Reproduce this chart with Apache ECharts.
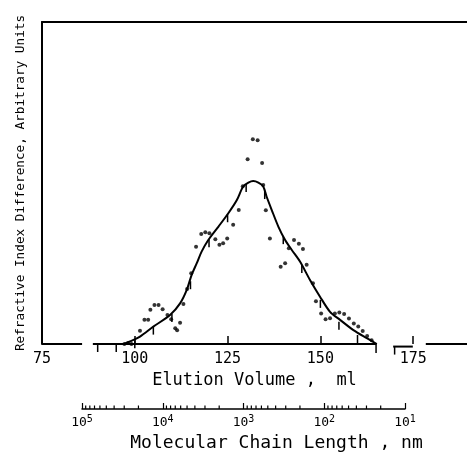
<!DOCTYPE html>
<html>
<head>
<meta charset="utf-8">
<script src="https://cdn.jsdelivr.net/npm/echarts@6/dist/echarts.min.js"></script>
<style>
  html, body { margin: 0; padding: 0; background: #fff; }
  #chart { width: 467px; height: 452px; }
</style>
</head>
<body>
<div id="chart"></div>
<script>
// fitted curve (elution volume ml, signal arbitrary units)
const curveVolume = [97.1, 99.5, 101.4, 105.0, 109.5, 112.2, 114.0, 115.3, 116.7, 118.0, 119.8, 122.5, 125.2, 127.5,
  129.2, 130.6, 131.9, 133.3, 134.6, 135.5, 136.9, 138.7, 140.5, 142.3, 144.5, 147.2, 149.9, 152.6, 155.3, 158.9,
  162.5, 165.2];
const curveSignal = [0, 1.2, 2.3, 5.4, 9.0, 12.6, 16.8, 21.4, 25.1, 28.7, 32.3, 36.4, 40.6, 44.7,
  48.9, 50.1, 50.6, 50.1, 48.9, 45.8, 41.6, 36.4, 32.3, 29.2, 25.6, 19.9, 14.7, 10.0, 7.5, 4.3,
  1.8, 0];

// measured points
const dotVolume = [96.3, 97.2, 98.2, 99.1, 101.4, 102.6, 103.6, 104.2, 105.3, 106.4, 107.5, 108.8, 109.8, 110.9,
  111.4, 112.2, 113.1, 114.1, 115.2, 116.5, 117.9, 119.0, 120.1, 121.7, 122.8, 123.8, 124.9, 126.5, 128.0, 129.1,
  130.4, 131.8, 133.1, 134.3, 134.6, 135.3, 136.4, 139.3, 140.5, 141.5, 142.9, 144.2, 145.3, 146.3, 148.0, 148.8,
  150.2, 151.4, 152.6, 153.9, 155.1, 156.4, 157.7, 159.0, 160.2, 161.4, 162.6, 163.8, 165.9, 167.0, 168.0];
const dotSignal = [-0.3, 0, 0.3, 0, 4.1, 7.5, 7.5, 10.6, 12.1, 12.1, 10.8, 9.0, 7.7, 4.9,
  4.3, 6.6, 12.4, 17.1, 22.0, 30.2, 34.2, 34.7, 34.4, 32.5, 30.8, 31.3, 32.8, 37.0, 41.6, 49.0,
  57.4, 63.6, 63.3, 56.2, 49.4, 41.5, 32.8, 24.0, 25.1, 29.7, 32.3, 31.1, 29.5, 24.6, 18.9, 13.3,
  9.5, 7.7, 8.0, 9.5, 9.8, 9.3, 7.9, 6.4, 5.4, 4.0, 2.5, 1.2, -0.6, -0.8, -0.8];

// 5 ml fraction marks hanging from the curve
const fractionVolume = [90, 95, 100, 105, 110, 115, 120, 125, 130, 135, 140, 145, 150, 155, 160, 165, 170];
const fractionSignal = [0, 0, 1.2, 5.4, 9.3, 19.5, 32.5, 40.3, 49.7, 47.5, 33.5, 24.5, 13.7, 6.9, 2.8, -0.3, -0.8];

// broken baseline pieces [from, to, level]
const baselinePieces = [[75, 85.8, 0], [88.7, 165.2, 0], [169.6, 174.9, -0.8], [178.4, 189.5, 0]];

// molecular chain length scale (nm)
const chainMinorTicks = [20, 30, 40, 50, 60, 70, 80, 90, 200, 300, 400, 500, 600, 700, 800, 900,
  2000, 3000, 4000, 5000, 6000, 7000, 8000, 9000, 20000, 30000, 40000, 50000, 60000, 70000, 80000, 90000];

const ink = "#000";
const mono = "DejaVu Sans Mono";

const chart = echarts.init(document.getElementById("chart"));

chart.setOption({
  animation: false,
  grid: [
    { left: 42, right: 0, top: 22, bottom: 108, outerBoundsMode: "none" },
    { left: 82, width: 323, top: 400, height: 9, outerBoundsMode: "none" },
  ],
  xAxis: [
    {
      type: "value",
      gridIndex: 0,
      min: 75,
      max: 189.5,
      interval: 25,
      name: "Elution Volume ,  ml",
      nameLocation: "middle",
      nameGap: 25,
      nameTextStyle: { color: ink, fontFamily: mono, fontSize: 17 },
      axisLine: { show: false },
      axisTick: { show: true, inside: true, length: 8, lineStyle: { color: ink, width: 1.5 } },
      axisLabel: { color: ink, fontFamily: mono, fontSize: 15, margin: 8, showMaxLabel: false },
      splitLine: { show: false },
    },
    {
      type: "value",
      gridIndex: 0,
      position: "top",
      min: 75,
      max: 189.5,
      axisLine: { show: true, lineStyle: { color: ink, width: 2 } },
      axisTick: { show: false },
      axisLabel: { show: false },
      splitLine: { show: false },
    },
    {
      type: "log",
      gridIndex: 1,
      logBase: 10,
      min: 10,
      max: 100000,
      inverse: true,
      name: "Molecular Chain Length , nm",
      nameLocation: "middle",
      nameGap: 25,
      nameTextStyle: { color: ink, fontFamily: mono, fontSize: 18, padding: [0, 0, 0, 66] },
      axisLine: { show: true, lineStyle: { color: ink, width: 1.5 } },
      axisTick: { show: true, inside: true, length: 6, lineStyle: { color: ink, width: 1.2 } },
      axisLabel: {
        color: ink,
        fontFamily: mono,
        fontSize: 13,
        margin: 5,
        formatter: (value) => `10{sup|${Math.round(Math.log10(value))}}`,
        rich: {
          sup: { fontFamily: mono, fontSize: 10, color: ink, verticalAlign: "top", padding: [0, 0, 7, 0] },
        },
      },
      splitLine: { show: false },
    },
  ],
  yAxis: [
    {
      type: "value",
      gridIndex: 0,
      min: 0,
      max: 100,
      name: "Refractive Index Difference, Arbitrary Units",
      nameLocation: "middle",
      nameGap: 15,
      nameTextStyle: { color: ink, fontFamily: mono, fontSize: 12.7 },
      axisLine: { show: true, lineStyle: { color: ink, width: 2 } },
      axisTick: { show: false },
      axisLabel: { show: false },
      splitLine: { show: false },
    },
    {
      type: "value",
      gridIndex: 1,
      min: 0,
      max: 1,
      show: false,
    },
  ],
  series: [
    {
      type: "custom",
      xAxisIndex: 0,
      yAxisIndex: 0,
      data: baselinePieces,
      encode: { x: [0, 1], y: 2 },
      renderItem: (params, api) => {
        const a = api.coord([api.value(0), api.value(2)]);
        const b = api.coord([api.value(1), api.value(2)]);
        return {
          type: "line",
          shape: { x1: a[0], y1: a[1], x2: b[0], y2: b[1] },
          style: { stroke: ink, lineWidth: 2 },
        };
      },
    },
    {
      type: "line",
      xAxisIndex: 0,
      yAxisIndex: 0,
      data: curveVolume.map((v, i) => [v, curveSignal[i]]),
      smooth: 0.3,
      showSymbol: false,
      lineStyle: { color: ink, width: 2 },
    },
    {
      type: "custom",
      xAxisIndex: 0,
      yAxisIndex: 0,
      data: fractionVolume.map((v, i) => [v, fractionSignal[i]]),
      renderItem: (params, api) => {
        const p = api.coord([api.value(0), api.value(1)]);
        return {
          type: "line",
          shape: { x1: p[0], y1: p[1], x2: p[0], y2: p[1] + 8 },
          style: { stroke: ink, lineWidth: 1.5 },
        };
      },
    },
    {
      type: "scatter",
      xAxisIndex: 0,
      yAxisIndex: 0,
      data: dotVolume.map((v, i) => [v, dotSignal[i]]),
      symbolSize: 4,
      itemStyle: { color: ink },
    },
    {
      type: "custom",
      xAxisIndex: 2,
      yAxisIndex: 1,
      data: chainMinorTicks.map((v) => [v, 0]),
      renderItem: (params, api) => {
        const p = api.coord([api.value(0), 0]);
        return {
          type: "line",
          shape: { x1: p[0], y1: p[1], x2: p[0], y2: p[1] - 3.5 },
          style: { stroke: ink, lineWidth: 1.2 },
        };
      },
    },
  ],
});
</script>
</body>
</html>
